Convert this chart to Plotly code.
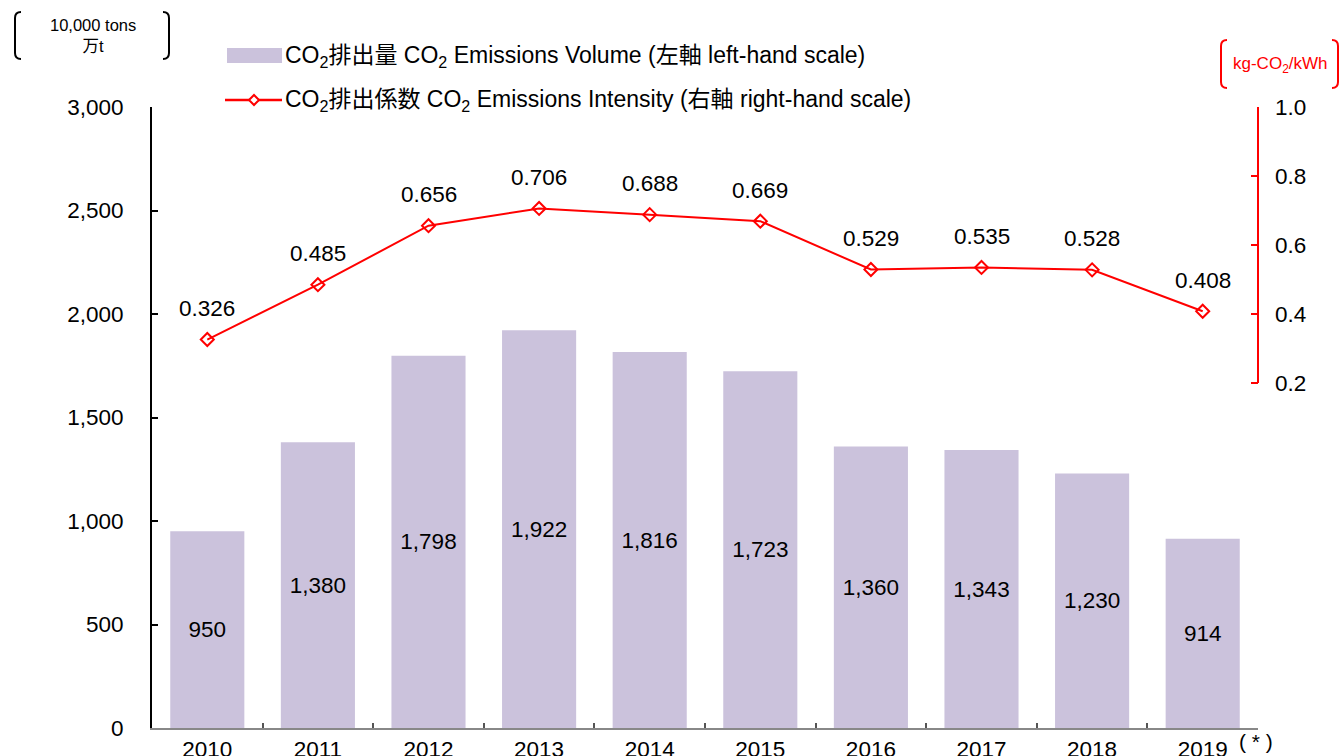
import plotly.graph_objects as go

# ── Data ──────────────────────────────────────────────────────────
years = ["2010", "2011", "2012", "2013", "2014", "2015", "2016", "2017", "2018", "2019"]
volume = [950, 1380, 1798, 1922, 1816, 1723, 1360, 1343, 1230, 914]          # 10,000 t
intensity = [0.326, 0.485, 0.656, 0.706, 0.688, 0.669, 0.529, 0.535, 0.528, 0.408]  # kg-CO2/kWh
right_ticks = [0.2, 0.4, 0.6, 0.8, 1.0]

BAR_COLOR = "#cbc2dc"
RED = "#ff0000"
FONT = "Liberation Sans, Arial, Noto Sans CJK JP, sans-serif"
FS = 22.5

W, H = 1343, 756
L, R, T, B = 152, 1258, 107, 728  # plot area in pixels


def px(x):
    return (x - L) / (R - L)


def py(y):
    return (B - y) / (B - T)


fig = go.Figure()

fig.add_trace(go.Bar(
    x=years, y=volume,
    marker=dict(color=BAR_COLOR, line=dict(width=0)),
    text=[f"{v:,}" for v in volume],
    textposition="inside", insidetextanchor="middle",
    textfont=dict(size=FS, color="black", family=FONT),
    hoverinfo="skip", showlegend=False,
))

fig.add_trace(go.Scatter(
    x=years, y=intensity, yaxis="y2",
    mode="lines+markers",
    line=dict(color=RED, width=2),
    marker=dict(symbol="diamond-open", size=10, color=RED, line=dict(width=2, color=RED)),
    showlegend=False,
))

# labels above the intensity points (category index for x)
for i, v in enumerate(intensity):
    fig.add_annotation(
        x=i, y=v, xref="x", yref="y2", text=f"{v:.3f}", showarrow=False,
        yshift=31, font=dict(size=FS, color="black", family=FONT),
    )

shapes = []

# right axis line only spans 0.2 – 1.0
shapes.append(dict(type="line", xref="paper", yref="y2", x0=1, x1=1,
                   y0=min(right_ticks), y1=max(right_ticks),
                   line=dict(color=RED, width=2)))

# ── manual legend ─────────────────────────────────────────────────
shapes.append(dict(type="rect", xref="paper", yref="paper",
                   x0=px(227), x1=px(282), y0=py(63), y1=py(48),
                   fillcolor=BAR_COLOR, line=dict(width=0)))
shapes.append(dict(type="line", xref="paper", yref="paper",
                   x0=px(225), x1=px(282), y0=py(100), y1=py(100),
                   line=dict(color=RED, width=2.5)))
d = 5
shapes.append(dict(type="path", xref="paper", yref="paper",
                   path=(f"M {px(254 - d)},{py(100)} L {px(254)},{py(100 - d)} "
                         f"L {px(254 + d)},{py(100)} L {px(254)},{py(100 + d)} Z"),
                   fillcolor="white", line=dict(color=RED, width=2)))

fig.add_annotation(xref="paper", yref="paper", x=px(283), y=py(56),
                   xanchor="left", yanchor="middle",
                   text="CO<sub>2</sub>排出量 CO<sub>2</sub> Emissions Volume (左軸 left-hand scale)",
                   showarrow=False, font=dict(size=23, color="black", family=FONT))
fig.add_annotation(xref="paper", yref="paper", x=px(283), y=py(101),
                   xanchor="left", yanchor="middle",
                   text="CO<sub>2</sub>排出係数 CO<sub>2</sub> Emissions Intensity (右軸 right-hand scale)",
                   showarrow=False, font=dict(size=23, color="black", family=FONT))

# ── unit labels with brackets ─────────────────────────────────────
fig.add_annotation(xref="paper", yref="paper", x=px(93), y=py(36),
                   xanchor="center", yanchor="middle",
                   text="10,000 tons<br>万t", showarrow=False,
                   font=dict(size=16.5, color="black", family=FONT))


def bracket(x_left, x_right, y_top, y_bot, color):
    r = 6
    left = (f"M {px(x_left + r)},{py(y_top)} Q {px(x_left)},{py(y_top)} {px(x_left)},{py(y_top + r)} "
            f"L {px(x_left)},{py(y_bot - r)} Q {px(x_left)},{py(y_bot)} {px(x_left + r)},{py(y_bot)}")
    right = (f"M {px(x_right - r)},{py(y_top)} Q {px(x_right)},{py(y_top)} {px(x_right)},{py(y_top + r)} "
             f"L {px(x_right)},{py(y_bot - r)} Q {px(x_right)},{py(y_bot)} {px(x_right - r)},{py(y_bot)}")
    return [dict(type="path", xref="paper", yref="paper", path=p,
                 line=dict(color=color, width=2)) for p in (left, right)]


shapes += bracket(15, 169, 12, 59, "black")
shapes += bracket(1221, 1338, 40, 88, RED)

fig.add_annotation(xref="paper", yref="paper", x=px(1280), y=py(65),
                   xanchor="center", yanchor="middle",
                   text="kg-CO<sub>2</sub>/kWh", showarrow=False,
                   font=dict(size=17, color=RED, family=FONT))

fig.add_annotation(xref="paper", yref="paper", x=px(1237), y=py(741),
                   xanchor="left", yanchor="middle",
                   text="( * )", showarrow=False,
                   font=dict(size=21, color="black", family=FONT))

fig.update_layout(
    width=W, height=H,
    margin=dict(l=L, r=W - R, t=T, b=H - B, pad=0, autoexpand=False),
    plot_bgcolor="white", paper_bgcolor="white",
    bargap=0.33, showlegend=False,
    font=dict(family=FONT, size=FS, color="black"),
    shapes=shapes,
    xaxis=dict(
        type="category", range=[-0.5, 9.5], automargin=False,
        tickson="boundaries", ticks="inside", ticklen=5,
        tickcolor="#555", tickwidth=1.5, tickangle=0,
        showline=True, linecolor="#888", linewidth=2,
        showgrid=False, zeroline=False,
        tickfont=dict(size=FS, color="black"),
    ),
    yaxis=dict(
        range=[0, 3000], dtick=500, tickformat=",", automargin=False,
        ticks="inside", ticklen=6, tickcolor="black", tickwidth=2,
        showline=True, linecolor="black", linewidth=2,
        showgrid=False, zeroline=False,
        ticklabelstandoff=22,
        tickfont=dict(size=FS, color="black"),
    ),
    yaxis2=dict(
        overlaying="y", side="right", automargin=False,
        range=[-0.8, 1.0], tickvals=right_ticks, tickformat=".1f",
        ticks="inside", ticklen=7, tickcolor=RED, tickwidth=2,
        showline=False, showgrid=False, zeroline=False,
        ticklabelstandoff=16,
        tickfont=dict(size=FS, color="black"),
    ),
)

# page body has a default 8px margin; remove it so the chart sits at (0, 0)
fig.write_html("out.html", config={"displayModeBar": False},
               post_script="document.body.style.margin='0';")
